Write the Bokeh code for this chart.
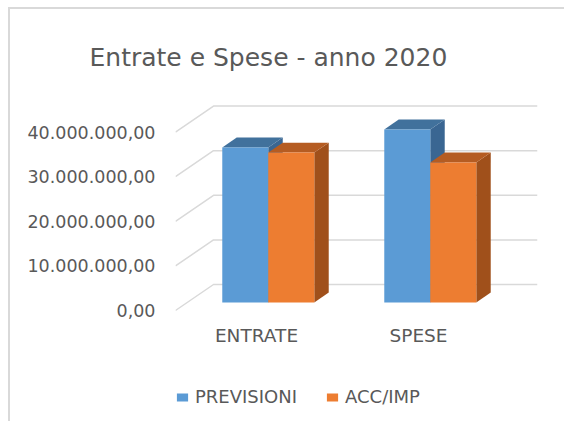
from bokeh.plotting import figure
from bokeh.models import FixedTicker, Legend, LegendItem, ColumnDataSource
from bokeh.core.properties import value
from bokeh.embed import file_html
from bokeh.resources import INLINE

# ---- data ----
title_text = "Entrate e Spese - anno 2020"
categories = ["ENTRATE", "SPESE"]
series_names = ["PREVISIONI", "ACC/IMP"]
previsioni = [34_750_000, 38_800_000]
acc_imp = [33_600_000, 31_400_000]
y_ticks = [0, 10_000_000, 20_000_000, 30_000_000, 40_000_000]


def fmt(v):
    s = f"{v:,.2f}"
    return s.replace(",", "X").replace(".", ",").replace("X", ".")


# ---- styling of the pseudo-3D projection (data units) ----
DX = 0.2346      # floor depth along x
DY = 5.83e6      # floor depth along y
F0, F1 = 0.31, 0.69  # bar depth span (fraction of floor depth)
BW = 0.284       # bar width
FONT = "DejaVu Sans"
GRAY = "#595959"

front_colors = ["#5B9BD5", "#ED7D31"]
top_colors = ["#41719C", "#B55C22"]
side_colors = ["#3A6692", "#A0501B"]

W, H = 556, 414
TOP, ZERO = 91, 301          # frame top / zero line in canvas px
PPM = 4.46 / 1e6             # px per value unit
y_end = (ZERO - TOP) / PPM
y_start = -(H - ZERO) / PPM

p = figure(width=W, height=H, output_backend="svg", toolbar_location=None,
           x_range=(0, 2 + DX), y_range=(y_start, y_end), tools="",
           min_border_left=165, min_border_right=29,
           min_border_top=TOP, min_border_bottom=0,
           outline_line_color=None)
p.styles = {"border-left": "2px solid #D9D9D9", "border-top": "2px solid #D9D9D9",
            "margin-left": "8px", "margin-top": "7px"}

# title
p.title.text = title_text
p.title.text_font = FONT
p.title.text_font_size = "25px"
p.title.text_font_style = "normal"
p.title.text_color = GRAY
p.title.align = "left"
p.title.vertical_align = "top"
p.title.offset = -86
p.title.standoff = 54

# gridlines (left wall diagonal + back wall)
gx = [[0, DX, 2 + DX] for v in y_ticks]
gy = [[v, v + DY, v + DY] for v in y_ticks]
p.multi_line(gx, gy, line_color="#D9D9D9", line_width=1.5)

# bars
series = [previsioni, acc_imp]
a0, a1 = F0 * DX, F1 * DX
b0, b1 = F0 * DY, F1 * DY
legend_items = []
for k, vals in enumerate(series):
    fx, fy, tx, ty, sx, sy = [], [], [], [], [], []
    for i, v in enumerate(vals):
        c = i + 0.5
        x0 = c - BW + k * BW
        x1 = x0 + BW
        fx.append([x0 + a0, x1 + a0, x1 + a0, x0 + a0])
        fy.append([b0, b0, v + b0, v + b0])
        tx.append([x0 + a0, x1 + a0, x1 + a1, x0 + a1])
        ty.append([v + b0, v + b0, v + b1, v + b1])
        sx.append([x1 + a0, x1 + a1, x1 + a1, x1 + a0])
        sy.append([b0, b1, v + b1, v + b0])
    p.patches(sx, sy, fill_color=side_colors[k], line_color=None)
    p.patches(tx, ty, fill_color=top_colors[k], line_color=None)
    r = p.patches(fx, fy, fill_color=front_colors[k], line_color=None)
    legend_items.append(LegendItem(label=series_names[k], renderers=[r]))

# category labels (under the floor)
cat_src = ColumnDataSource(dict(x=[i + 0.5 for i in range(len(categories))],
                                y=[-25 / PPM] * len(categories),
                                t=categories))
p.text(x="x", y="y", text="t", source=cat_src, text_align="center",
       text_baseline="middle", text_font=value(FONT), text_font_size="18.5px",
       text_color=GRAY)

# axes
p.grid.visible = False
p.xaxis.visible = False
p.yaxis.ticker = FixedTicker(ticks=y_ticks)
p.yaxis.major_label_overrides = {v: fmt(v) for v in y_ticks}
ax = p.yaxis[0]
ax.axis_line_color = None
ax.major_tick_line_color = None
ax.minor_tick_line_color = None
ax.major_tick_out = 0
ax.major_tick_in = 0
ax.minor_tick_out = 0
ax.minor_tick_in = 0
ax.major_label_text_font = FONT
ax.major_label_text_color = GRAY
ax.major_label_text_font_size = "17.5px"
ax.major_label_standoff = 20

legend = Legend(items=legend_items, orientation="horizontal",
                location=(0, 16), margin=0, padding=0,
                border_line_color=None, background_fill_alpha=0,
                glyph_width=14, glyph_height=10, label_standoff=6,
                spacing=28, label_text_font=FONT, label_text_font_size="18px",
                label_text_color=GRAY, label_height=20)
p.add_layout(legend, "center")

open("out.html", "w").write(file_html(p, INLINE))
